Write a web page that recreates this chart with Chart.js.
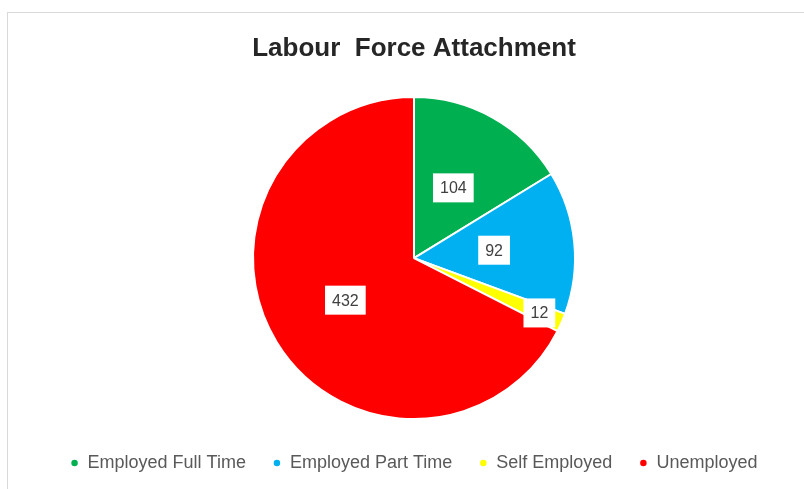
<!DOCTYPE html>
<html>
<head>
<meta charset="utf-8">
<script src="https://cdn.jsdelivr.net/npm/chart.js@4"></script>
<style>
  html, body { margin: 0; padding: 0; background: #fff; overflow: hidden; }
  #frame {
    position: absolute; left: 7px; top: 12px;
    width: 812px; height: 477px;
    border: 1px solid #d9d9d9;
  }
</style>
</head>
<body>
<div id="frame"><canvas id="chart"></canvas></div>
<script>
// chart data
const categories = ['Employed Full Time', 'Employed Part Time', 'Self Employed', 'Unemployed'];
const counts = [104, 92, 12, 432];
const sliceColors = ['#00b050', '#00b0f0', '#ffff00', '#ff0000'];

// white boxed value labels, like Excel data callouts
const valueLabels = {
  id: 'valueLabels',
  afterDatasetsDraw(chart) {
    const ctx = chart.ctx;
    const meta = chart.getDatasetMeta(0);
    ctx.save();
    ctx.font = '16px "Liberation Sans", Arial, sans-serif';
    ctx.textAlign = 'center';
    ctx.textBaseline = 'middle';
    meta.data.forEach((arc, i) => {
      const p = arc.getProps(['x', 'y', 'startAngle', 'endAngle', 'outerRadius']);
      const mid = (p.startAngle + p.endAngle) / 2;
      const span = p.endAngle - p.startAngle;
      // thin slices get pushed out toward the rim
      const r = span < 0.2 ? p.outerRadius * 0.85 : p.outerRadius * 0.5;
      const x = p.x + Math.cos(mid) * r;
      const y = p.y + Math.sin(mid) * r;
      const text = String(counts[i]);
      const w = ctx.measureText(text).width + 14;
      const h = 29;
      ctx.fillStyle = '#ffffff';
      ctx.fillRect(x - w / 2, y - h / 2, w, h);
      ctx.fillStyle = '#404040';
      ctx.fillText(text, x, y + 1);
    });
    ctx.restore();
  }
};

new Chart(document.getElementById('chart'), {
  type: 'pie',
  data: {
    labels: categories,
    datasets: [{
      data: counts,
      backgroundColor: sliceColors,
      borderColor: '#ffffff',
      borderWidth: 2,
      radius: 161
    }]
  },
  options: {
    responsive: true,
    maintainAspectRatio: false,
    animation: false,
    layout: { padding: { left: 0, right: 0, top: 0, bottom: 8 } },
    plugins: {
      tooltip: { enabled: false },
      title: {
        display: true,
        text: 'Labour  Force Attachment',
        color: '#262626',
        font: { family: '"Liberation Sans", Arial, sans-serif', size: 26, weight: 'bold' },
        padding: { top: 20, bottom: 25 }
      },
      legend: {
        position: 'bottom',
        labels: {
          usePointStyle: true,
          pointStyle: 'circle',
          boxWidth: 8,
          boxHeight: 6,
          padding: 27,
          color: '#595959',
          font: { family: '"Liberation Sans", Arial, sans-serif', size: 18 }
        }
      }
    }
  },
  plugins: [valueLabels]
});
</script>
</body>
</html>
